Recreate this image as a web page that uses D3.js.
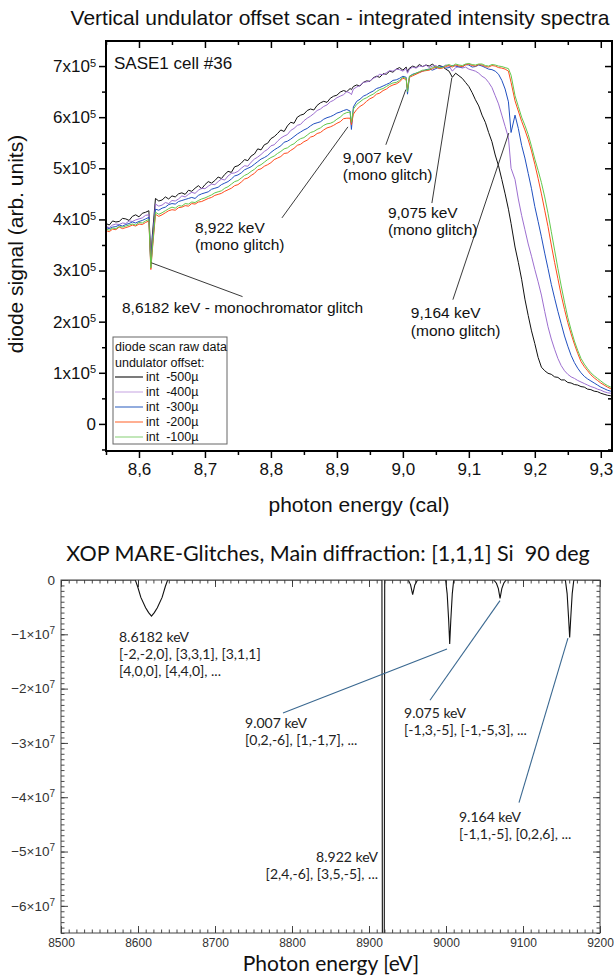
<!DOCTYPE html>
<html>
<head>
<meta charset="utf-8">
<script src="https://cdn.jsdelivr.net/npm/d3@7"></script>
<style>
body { margin:0; background:#fff; }
svg { display:block; background:#fff; }
.pre { white-space:pre; }
</style>
</head>
<body>
<svg id="drawing_region"></svg>
<script>
// ---- top panel: diode scan raw data (photon energy in keV, signal in 1e3 arb. units)
const energy = [
    8.55,8.555,8.56,8.565,8.57,8.575,8.58,8.585,8.59,8.595,
    8.60,8.605,8.61,8.615,8.618,8.62,8.625,8.63,8.635,8.64,8.645,
    8.65,8.655,8.66,8.665,8.67,8.675,8.68,8.685,8.69,8.695,
    8.70,8.705,8.71,8.715,8.72,8.725,8.73,8.735,8.74,8.745,
    8.75,8.755,8.76,8.765,8.77,8.775,8.78,8.785,8.79,8.795,
    8.80,8.805,8.81,8.815,8.82,8.825,8.83,8.835,8.84,8.845,
    8.85,8.855,8.86,8.865,8.87,8.875,8.88,8.885,8.89,8.895,
    8.90,8.905,8.91,8.915,8.92,8.922,8.925,8.93,8.935,8.94,8.945,
    8.95,8.955,8.96,8.965,8.97,8.975,8.98,8.985,8.99,8.995,
    9.00,9.005,9.007,9.01,9.015,9.02,9.025,9.03,9.035,9.04,9.045,
    9.05,9.055,9.06,9.065,9.07,9.075,9.08,9.085,9.09,9.095,
    9.10,9.105,9.11,9.115,9.12,9.125,9.13,9.135,9.14,9.145,
    9.15,9.155,9.16,9.164,9.17,9.175,9.18,9.185,9.19,9.195,
    9.20,9.205,9.21,9.215,9.22,9.225,9.23,9.235,9.24,9.245,
    9.25,9.255,9.26,9.265,9.27,9.275,9.28,9.285,9.29,9.295,
    9.30,9.305,9.31,9.315,9.32];

const int500 = [
    392,389,397,395,396,402,401,398,406,409,
    405,412,414,417,318,365,441,436,438,444,440,
    446,444,450,452,449,457,455,461,466,460,
    468,474,471,476,483,480,488,494,492,503,
    505,510,517,515,524,528,538,536,546,549,
    558,562,568,575,572,583,590,588,600,604,
    606,613,616,614,623,628,631,629,637,641,
    643,649,652,650,656,654,660,663,661,668,671,
    670,677,680,678,685,684,690,688,694,697,
    692,698,689,696,700,697,703,699,702,700,704,
    697,701,699,694,690,678,686,681,676,668,
    660,648,634,622,604,590,570,552,526,505,
    478,450,420,392,346,316,283,244,212,182,
    157,130,111,104,99,97,92,91,86,86,
    81,80,77,76,73,72,68,67,64,63,
    60,58,56,55,53];

const int400 = [
    386,384,389,391,390,393,392,397,396,399,
    401,403,408,409,312,352,430,426,428,433,431,
    437,436,440,446,444,449,453,451,457,461,
    460,465,469,468,474,479,477,485,490,491,
    494,500,505,504,512,518,522,527,533,537,
    544,546,553,559,563,566,574,578,584,586,
    593,598,602,607,613,616,621,624,630,633,
    638,641,644,650,647,644,655,659,662,668,669,
    671,676,679,684,683,687,691,690,694,693,
    690,695,686,694,698,696,700,699,702,697,700,
    701,697,698,702,700,690,697,699,696,698,
    694,692,690,686,680,676,668,658,642,626,
    604,582,560,500,478,440,408,380,352,328,
    302,278,252,220,190,166,146,128,114,104,
    97,92,89,85,82,79,76,73,71,68,
    66,63,61,60,58];

const int300 = [
    384,382,385,386,389,387,390,392,395,393,
    396,398,401,404,308,345,420,418,422,424,429,
    431,430,435,437,439,441,443,441,447,450,
    452,454,459,461,463,468,471,474,479,485,
    487,491,497,500,503,508,513,518,521,525,
    531,536,540,544,551,553,557,562,567,571,
    575,578,583,587,589,591,596,599,601,604,
    608,610,613,615,612,576,620,631,635,641,644,
    648,651,656,658,661,664,667,672,673,676,
    680,678,645,680,684,686,688,690,693,694,692,
    695,698,699,696,697,701,700,698,698,703,
    702,698,699,702,700,697,694,693,690,684,
    672,655,630,570,604,578,545,520,490,460,
    425,396,366,334,304,273,246,220,196,172,
    152,134,120,109,100,93,88,84,80,76,
    72,69,66,64,62];

const int200 = [
    378,376,381,380,385,382,384,386,389,387,
    391,390,394,397,302,336,410,406,409,413,417,
    419,418,423,424,427,426,431,430,434,435,
    438,441,443,447,449,451,455,458,461,466,
    468,473,479,481,486,490,497,499,504,507,
    511,517,520,523,529,530,535,539,545,547,
    552,555,561,563,568,570,575,579,581,584,
    588,591,597,598,598,585,606,615,621,625,631,
    636,639,645,647,652,655,660,663,665,669,
    676,674,655,678,681,684,687,690,691,692,695,
    698,695,696,699,701,698,702,700,699,702,
    704,701,700,703,702,699,698,701,700,697,
    696,694,690,668,632,612,592,575,556,534,
    508,480,450,418,386,350,316,284,252,224,
    198,176,156,138,122,112,104,96,90,85,
    80,76,72,69,66];

const int100 = [
    381,379,383,382,386,385,387,389,391,389,
    394,393,397,400,305,340,414,410,413,417,421,
    424,422,427,426,431,430,434,433,437,440,
    442,445,448,452,454,456,461,464,469,474,
    476,481,486,489,494,498,504,507,512,517,
    521,524,529,533,538,540,545,548,554,558,
    560,565,570,572,576,579,584,587,588,591,
    596,600,606,609,610,590,616,625,630,635,638,
    642,645,650,654,656,660,664,667,668,672,
    678,676,650,680,683,686,689,692,692,694,697,
    699,697,697,701,703,700,704,702,701,704,
    705,703,702,704,704,701,700,703,702,700,
    699,697,695,682,642,621,600,584,566,543,
    518,496,472,444,412,376,340,304,270,238,
    208,184,162,144,128,117,108,100,94,89,
    84,79,75,72,68];

const seriesNames = ['int  -500µ','int  -400µ','int  -300µ','int  -200µ','int  -100µ'];
const seriesColors = ['#111111','#9d6fd0','#2150c0','#ff4a1c','#62c84c'];
const legendColors = ['#222222','#cfb2e6','#4a76c8','#ff7a4a','#9ad88a'];

const topXTicks = [8.6,8.7,8.8,8.9,9.0,9.1,9.2,9.3];
const topYTicks = [0,1e5,2e5,3e5,4e5,5e5,6e5,7e5];

// ---- bottom panel: XOP MARE glitch curve (photon energy in eV, signal in 1e6 units)
const glitchEnergy = [8500,8596.5,8599.5,8603.7,8609.9,8613.8,8617.5,8621.2,8625.1,8631.3,8635.5,8638.5,
    8916.8,8917.4,8919.8,8920.4,
    8951,8954,8956.7,8959.5,8963,
    8999.5,9001.5,9003.5,9004.8,9006.2,9008.2,9010,
    9062,9065.5,9068,9070.2,9072.5,9075,9078,
    9155,9157.3,9159.2,9160.6,9162,9163.9,9166,9200];
const glitchSignal = [0,0,-1.2,-3.2,-5.1,-6.0,-6.66,-6.0,-5.1,-3.2,-1.2,0,
    0,-70,-70,0,
    0,-0.9,-2.7,-0.9,0,
    0,-2.5,-7.5,-11.8,-7.5,-2.5,0,
    0,-0.6,-1.6,-3.4,-1.6,-0.6,0,
    0,-2.5,-7,-10.6,-7,-2.5,0,0];

const botXTicks = [8500,8600,8700,8800,8900,9000,9100,9200];
const botYTicks = [0,-1e7,-2e7,-3e7,-4e7,-5e7,-6e7];

// annotation anchors, in data units of each panel
const topNotes = [
    {text:['8,6182 keV - monochromator glitch'], at:[8.5742,2.17e5], from:[8.619,3.15e5], to:[8.757,2.49e5]},
    {text:['8,922 keV','(mono glitch)'], at:[8.6848,3.74e5], from:[8.8167,4.03e5], to:[8.9167,5.81e5]},
    {text:['9,007 keV','(mono glitch)'], at:[8.909,5.11e5], from:[8.9742,5.46e5], to:[9.0045,6.54e5]},
    {text:['9,075 keV','(mono glitch)'], at:[8.9773,4.03e5], from:[9.044,4.32e5], to:[9.0742,6.77e5]},
    {text:['9,164 keV','(mono glitch)'], at:[9.0121,2.07e5], from:[9.0758,2.43e5], to:[9.1606,5.69e5]}
];
const botNotes = [
    {text:['8.6182 keV','[-2,-2,0], [3,3,1], [3,1,1]','[4,0,0], [4,4,0], ...'], at:[8575.3,-1.144e7], anchor:'start'},
    {text:['9.007 keV','[0,2,-6], [1,-1,7], ...'], at:[8739,-2.72e7], anchor:'start', from:[8788.3,-2.45e7], to:[9001.3,-1.27e7]},
    {text:['9.075 keV','[-1,3,-5], [-1,-5,3], ...'], at:[8945.5,-2.54e7], anchor:'start', from:[8979.2,-2.215e7], to:[9070.1,-0.38e7]},
    {text:['9.164 keV','[-1,1,-5], [0,2,6], ...'], at:[9016.9,-4.45e7], anchor:'start', from:[9094.8,-4.10e7], to:[9158.4,-1.07e7]},
    {text:['8.922 keV','[2,4,-6], [3,5,-5], ...'], at:[8911.7,-5.19e7], anchor:'end'}
];

const svg = d3.select('#drawing_region')
    .attr('width', 614)
    .attr('height', 978);

class SpectraPlot {

    constructor( config ) {
        this.config = config;
        this.init();
    }

    init() {
        let self = this;
        const m = self.config.margin;
        self.inner_width = self.config.width - m.left - m.right;
        self.inner_height = self.config.height - m.top - m.bottom;

        self.chart = svg.append('g')
            .attr('transform', `translate(${m.left}, ${m.top})`)
            .attr('font-family', '"Liberation Sans", Arial, sans-serif');

        self.xscale = d3.scaleLinear()
            .domain([8.55, 9.317])
            .range([0, self.inner_width]);

        self.yscale = d3.scaleLinear()
            .domain([-0.53e5, 7.49e5])
            .range([self.inner_height, 0]);
    }

    render() {
        let self = this;
        const W = self.inner_width, H = self.inner_height;

        self.chart.append('clipPath').attr('id', 'clip_top')
            .append('rect').attr('width', W).attr('height', H);

        const series = [int500, int400, int300, int200, int100];
        const line = d3.line()
            .defined( (d, i) => energy[i] !== undefined )
            .x( (d, i) => self.xscale( energy[i] ) )
            .y( d => self.yscale( d * 1e3 ) );

        self.chart.append('g')
            .attr('clip-path', 'url(#clip_top)')
            .selectAll('path')
            .data(series)
            .join('path')
            .attr('d', d => line(d))
            .attr('fill', 'none')
            .attr('stroke', (d, i) => seriesColors[i])
            .attr('stroke-width', 1);

        // axes
        const minorX = d3.range(8.55, 9.31, 0.1);
        const minorY = d3.range(-0.5e5, 7.5e5, 1e5);
        const fmtX = d => d3.format('.1f')(d).replace('.', ',');

        const xg = self.chart.append('g')
            .attr('transform', `translate(0, ${H})`)
            .call( d3.axisBottom(self.xscale).tickValues(topXTicks).tickSize(7).tickSizeOuter(0).tickPadding(5).tickFormat(fmtX) );
        self.chart.append('g')
            .attr('transform', `translate(0, ${H})`)
            .call( d3.axisBottom(self.xscale).tickValues(minorX).tickSize(4).tickFormat('') );
        self.chart.append('g')
            .call( d3.axisTop(self.xscale).tickValues(topXTicks).tickSize(-7).tickFormat('') );
        self.chart.append('g')
            .call( d3.axisTop(self.xscale).tickValues(minorX).tickSize(-4).tickFormat('') );

        const yg = self.chart.append('g')
            .call( d3.axisLeft(self.yscale).tickValues(topYTicks).tickSize(7).tickPadding(3) );
        self.chart.append('g')
            .call( d3.axisLeft(self.yscale).tickValues(minorY).tickSize(4).tickFormat('') );
        self.chart.append('g')
            .attr('transform', `translate(${W}, 0)`)
            .call( d3.axisRight(self.yscale).tickValues(topYTicks).tickSize(-7).tickFormat('') );
        self.chart.append('g')
            .attr('transform', `translate(${W}, 0)`)
            .call( d3.axisRight(self.yscale).tickValues(minorY).tickSize(-4).tickFormat('') );

        self.chart.selectAll('.domain').remove();
        self.chart.selectAll('.tick line').attr('stroke', '#000').attr('stroke-width', 1.5);
        xg.selectAll('.tick text').attr('font-size', 17).attr('fill', '#111').attr('font-family', null);
        yg.selectAll('.tick text')
            .attr('font-size', 17).attr('fill', '#111').attr('font-family', null)
            .each(function(d) {
                const t = d3.select(this).text(null);
                if (d === 0) { t.text('0'); return; }
                t.append('tspan').text(`${d / 1e5}x10`);
                t.append('tspan').attr('dy', '-0.5em').attr('font-size', 11).text('5');
            });

        self.chart.append('rect')
            .attr('width', W).attr('height', H)
            .attr('fill', 'none').attr('stroke', '#000').attr('stroke-width', 2);

        // annotations
        const notes = self.chart.append('g');
        topNotes.forEach( n => {
            notes.append('line')
                .attr('x1', self.xscale(n.from[0])).attr('y1', self.yscale(n.from[1]))
                .attr('x2', self.xscale(n.to[0])).attr('y2', self.yscale(n.to[1]))
                .attr('stroke', '#222').attr('stroke-width', 0.9);
            const t = notes.append('text')
                .attr('x', self.xscale(n.at[0])).attr('y', self.yscale(n.at[1]))
                .attr('font-size', 15.5).attr('fill', '#111');
            n.text.forEach( (s, i) => {
                t.append('tspan').attr('x', self.xscale(n.at[0])).attr('dy', i ? 17.5 : 0).text(s);
            });
        });

        self.chart.append('text')
            .attr('x', 8).attr('y', 28)
            .attr('font-size', 17).attr('fill', '#111')
            .text('SASE1 cell #36');

        // legend
        const lg = self.chart.append('g').attr('transform', 'translate(7, 296)');
        lg.append('rect').attr('width', 114).attr('height', 107)
            .attr('fill', '#fff').attr('stroke', '#666').attr('stroke-width', 1);
        lg.append('text').attr('x', 2).attr('y', 14).attr('font-size', 12.5).attr('fill', '#111').text('diode scan raw data');
        lg.append('text').attr('x', 2).attr('y', 30).attr('font-size', 12.5).attr('fill', '#111').text('undulator offset:');
        const item = lg.selectAll('g.item')
            .data(seriesNames)
            .join('g')
            .attr('class', 'item')
            .attr('transform', (d, i) => `translate(0, ${44 + i * 15})`);
        item.append('line').attr('x1', 2).attr('x2', 30).attr('y1', -4).attr('y2', -4)
            .attr('stroke', (d, i) => legendColors[i]).attr('stroke-width', 1.2);
        item.append('text').attr('class', 'pre').attr('x', 33).attr('font-size', 12.5).attr('fill', '#111').text(d => d);

        // titles
        svg.append('text')
            .attr('x', 340).attr('y', 25)
            .attr('text-anchor', 'middle')
            .attr('font-family', '"Liberation Sans", Arial, sans-serif')
            .attr('font-size', 21).attr('fill', '#111')
            .text('Vertical undulator offset scan - integrated intensity spectra');
        svg.append('text')
            .attr('x', self.config.margin.left + W / 2).attr('y', 512)
            .attr('text-anchor', 'middle')
            .attr('font-family', '"Liberation Sans", Arial, sans-serif')
            .attr('font-size', 21).attr('fill', '#111')
            .text('photon energy (cal)');
        svg.append('text')
            .attr('transform', 'translate(23, 244) rotate(-90)')
            .attr('text-anchor', 'middle')
            .attr('font-family', '"Liberation Sans", Arial, sans-serif')
            .attr('font-size', 21).attr('fill', '#111')
            .text('diode signal (arb. units)');
    }
}

class GlitchPlot {

    constructor( config ) {
        this.config = config;
        this.init();
    }

    init() {
        let self = this;
        const m = self.config.margin;
        self.inner_width = self.config.width - m.left - m.right;
        self.inner_height = self.config.height - m.top - m.bottom;

        self.chart = svg.append('g')
            .attr('transform', `translate(${m.left}, ${m.top})`);

        self.xscale = d3.scaleLinear()
            .domain([8500, 9200])
            .range([0, self.inner_width]);

        self.yscale = d3.scaleLinear()
            .domain([-6.5e7, 0])
            .range([self.inner_height, 0]);
    }

    render() {
        let self = this;
        const W = self.inner_width, H = self.inner_height;

        self.chart.append('clipPath').attr('id', 'clip_bot')
            .append('rect').attr('width', W).attr('height', H);

        const line = d3.line()
            .x( (d, i) => self.xscale( glitchEnergy[i] ) )
            .y( d => self.yscale( d * 1e6 ) );

        self.chart.append('path')
            .attr('clip-path', 'url(#clip_bot)')
            .attr('d', line(glitchSignal))
            .attr('fill', 'none')
            .attr('stroke', '#111')
            .attr('stroke-width', 1.1);

        const minorX = d3.range(8500, 9201, 10);
        const minorY = d3.range(0, -6.5e7 - 1, -1e6);

        const xg = self.chart.append('g')
            .attr('transform', `translate(0, ${H})`)
            .call( d3.axisBottom(self.xscale).tickValues(botXTicks).tickSize(-7).tickSizeOuter(0).tickPadding(5).tickFormat(d3.format('d')) );
        self.chart.append('g')
            .attr('transform', `translate(0, ${H})`)
            .call( d3.axisBottom(self.xscale).tickValues(minorX).tickSize(-3.5).tickFormat('') );
        self.chart.append('g')
            .call( d3.axisTop(self.xscale).tickValues(botXTicks).tickSize(-7).tickFormat('') );
        self.chart.append('g')
            .call( d3.axisTop(self.xscale).tickValues(minorX).tickSize(-3.5).tickFormat('') );

        const yg = self.chart.append('g')
            .call( d3.axisLeft(self.yscale).tickValues(botYTicks).tickSize(-7).tickPadding(6) );
        self.chart.append('g')
            .call( d3.axisLeft(self.yscale).tickValues(minorY).tickSize(-3.5).tickFormat('') );
        self.chart.append('g')
            .attr('transform', `translate(${W}, 0)`)
            .call( d3.axisRight(self.yscale).tickValues(botYTicks).tickSize(-7).tickFormat('') );
        self.chart.append('g')
            .attr('transform', `translate(${W}, 0)`)
            .call( d3.axisRight(self.yscale).tickValues(minorY).tickSize(-3.5).tickFormat('') );

        self.chart.selectAll('.domain').remove();
        self.chart.selectAll('.tick line').attr('stroke', '#333').attr('stroke-width', 0.9);
        xg.selectAll('.tick text')
            .attr('font-family', '"Liberation Sans", Arial, sans-serif')
            .attr('font-size', 12).attr('fill', '#333');
        yg.selectAll('.tick text')
            .attr('font-family', '"Liberation Sans", Arial, sans-serif')
            .attr('font-size', 13.5).attr('fill', '#333')
            .each(function(d) {
                const t = d3.select(this).text(null);
                if (d === 0) { t.text('0'); return; }
                t.append('tspan').text(`\u2212${-d / 1e7}\u00d710`);
                t.append('tspan').attr('dy', '-0.5em').attr('font-size', 10).text('7');
            });

        self.chart.append('rect')
            .attr('width', W).attr('height', H)
            .attr('fill', 'none').attr('stroke', '#444').attr('stroke-width', 1);

        const notes = self.chart.append('g').attr('font-family', 'Lato, "Open Sans", sans-serif');
        botNotes.forEach( n => {
            if (n.from) {
                notes.append('line')
                    .attr('x1', self.xscale(n.from[0])).attr('y1', self.yscale(n.from[1]))
                    .attr('x2', self.xscale(n.to[0])).attr('y2', self.yscale(n.to[1]))
                    .attr('stroke', '#3a6890').attr('stroke-width', 1.1);
            }
            const t = notes.append('text')
                .attr('x', self.xscale(n.at[0])).attr('y', self.yscale(n.at[1]))
                .attr('text-anchor', n.anchor)
                .attr('font-size', 14).attr('fill', '#222');
            n.text.forEach( (s, i) => {
                t.append('tspan').attr('x', self.xscale(n.at[0])).attr('dy', i ? 17 : 0).text(s);
            });
        });

        svg.append('text')
            .attr('class', 'pre')
            .attr('x', 328).attr('y', 561)
            .attr('text-anchor', 'middle')
            .attr('font-family', 'Lato, "Open Sans", sans-serif')
            .attr('font-size', 21.5).attr('fill', '#111')
            .text('XOP MARE-Glitches, Main diffraction: [1,1,1] Si  90 deg');
        svg.append('text')
            .attr('x', 331).attr('y', 971)
            .attr('text-anchor', 'middle')
            .attr('font-family', 'Lato, "Open Sans", sans-serif')
            .attr('font-size', 21).attr('fill', '#111')
            .text('Photon energy [eV]');
    }
}

const spectra = new SpectraPlot({
    width: 614, height: 452,
    margin: {top:41, right:2, bottom:1, left:106}
});
spectra.render();

const glitches = new GlitchPlot({
    width: 600, height: 933,
    margin: {top:580, right:0, bottom:0, left:61}
});
glitches.render();
</script>
</body>
</html>
